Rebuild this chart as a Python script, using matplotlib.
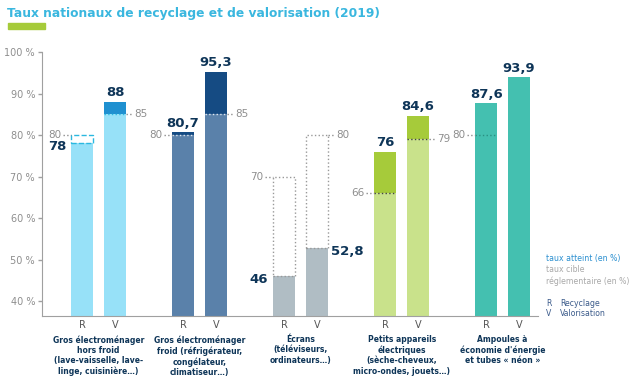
import numpy as np
import matplotlib
matplotlib.use("Agg")
import matplotlib.pyplot as plt
from matplotlib.patches import Rectangle

plt.rcParams["font.family"] = "DejaVu Sans"

# data
categories = [
    "Gros électroménager\nhors froid\n(lave-vaisselle, lave-\nlinge, cuisinière…)",
    "Gros électroménager\nfroid (réfrigérateur,\ncongélateur,\nclimatiseur…)",
    "Écrans\n(téléviseurs,\nordinateurs…)",
    "Petits appareils\nélectriques\n(sèche-cheveux,\nmicro-ondes, jouets…)",
    "Ampoules à\néconomie d'énergie\net tubes « néon »",
]
recyclage = [78, 80.7, 46, 76, 87.6]
valorisation = [88, 95.3, 52.8, 84.6, 93.9]
cible_recyclage = [80, 80, 70, 66, 80]
cible_valorisation = [85, 85, 80, 79, None]
y_ticks = [40, 50, 60, 70, 80, 90, 100]

# colours per category: (light, dark, target line)
light_colors = ["#97e1f8", "#5a81aa", "#b0bdc4", "#c9e28b", "#44c0b0"]
dark_colors = ["#1f90d0", "#154b83", "#b0bdc4", "#a6cb3a", "#44c0b0"]
line_colors = ["#2bb8e0", "#dfe7f0", "#999999", "#444444", "#2a8f82"]

navy = "#0e3558"
grey = "#8e8e8e"

W, H = 640, 378
fig = plt.figure(figsize=(W / 100, H / 100), dpi=100)
ax = fig.add_axes([42 / W, 1 - 316 / H, 496 / W, (316 - 52) / H])

ymin = 36.4
ax.set_ylim(ymin, 100)
ax.set_xlim(-0.56, 4.35)

x = np.arange(len(categories))
off = 0.163
bw = 0.213


def fmt(v):
    return f"{v:g}".replace(".", ",")


def draw_bar(xc, value, target, i, side):
    light, dark, lcol = light_colors[i], dark_colors[i], line_colors[i]
    left = xc - bw / 2
    right = xc + bw / 2
    if target is None or value <= target:
        ax.bar(xc, value, width=bw, color=light, zorder=2)
    else:
        ax.bar(xc, target, width=bw, color=light, zorder=2)
        ax.bar(xc, value - target, bottom=target, width=bw, color=dark, zorder=2)
    if target is not None:
        if value < target:
            ls = "--" if i == 0 else ":"
            ax.add_patch(Rectangle((left, value), bw, target - value, fill=False,
                                   edgecolor=lcol, linestyle=ls, linewidth=1, zorder=3))
        else:
            ax.plot([left, right], [target, target], color=lcol, linestyle=":",
                    linewidth=1, zorder=3)
        # target label with dotted leader
        if side == "left":
            lx = left - 0.1
            ax.plot([lx + 0.02, left], [target, target], color=grey, linestyle=":",
                    linewidth=1, zorder=3)
            ax.text(lx, target, fmt(target), ha="right", va="center", color=grey,
                    fontsize=7.5)
        else:
            lx = right + 0.08
            ax.plot([right, lx - 0.02], [target, target], color=grey, linestyle=":",
                    linewidth=1, zorder=3)
            ax.text(lx, target, fmt(target), ha="left", va="center", color=grey,
                    fontsize=7.5)
    # value label
    if target is not None and value < target:
        if side == "left":
            ax.text(left - 0.05, value - 0.8, fmt(value), ha="right", va="center",
                    color=navy, fontsize=9.5, fontweight="bold")
        else:
            ax.text(right + 0.03, value - 0.8, fmt(value), ha="left", va="center",
                    color=navy, fontsize=9.5, fontweight="bold")
    else:
        ax.text(xc, value + 0.6, fmt(value), ha="center", va="bottom",
                color=navy, fontsize=9.5, fontweight="bold")


for i in range(len(categories)):
    draw_bar(x[i] - off, recyclage[i], cible_recyclage[i], i, "left")
    draw_bar(x[i] + off, valorisation[i], cible_valorisation[i], i, "right")

# axes styling
for s in ["top", "right"]:
    ax.spines[s].set_visible(False)
ax.spines["left"].set_color("#a0a0a0")
ax.spines["bottom"].set_color("#a0a0a0")
ax.spines["left"].set_bounds(ymin, 100)
ax.set_yticks(y_ticks)
ax.set_yticklabels([f"{t} %" for t in y_ticks])
ax.tick_params(axis="y", colors="#a0a0a0", labelcolor=grey, labelsize=7,
               length=3, width=1, pad=2)

xt = np.concatenate([x - off, x + off])
ax.set_xticks(xt)
ax.set_xticklabels(["R"] * len(x) + ["V"] * len(x))
ax.tick_params(axis="x", length=0, labelsize=7, labelcolor="#555555", pad=3)

for i, cat in enumerate(categories):
    ax.text(x[i], ymin - 4.6, cat, ha="center", va="top", color=navy,
            fontsize=5.5, fontweight="bold", linespacing=1.2)

# title and accent bar
fig.text(7 / W, 1 - 14 / H, "Taux nationaux de recyclage et de valorisation (2019)",
         ha="left", va="center", color="#3ab7df", fontsize=8.8, fontweight="bold")
fig.patches.append(Rectangle((8 / W, 1 - 29 / H), 37 / W, 6 / H,
                             transform=fig.transFigure, color="#a6cb3a"))

# legend texts
fs = 5.6
fig.text(546 / W, 1 - 259 / H, "taux atteint (en %)", color="#2a8fd0", fontsize=fs,
         va="center")
fig.text(546 / W, 1 - 270 / H, "taux cible", color="#a8a8a8", fontsize=fs, va="center")
fig.text(546 / W, 1 - 281 / H, "réglementaire (en %)", color="#a8a8a8", fontsize=fs,
         va="center")
fig.text(546 / W, 1 - 303 / H, "R", color="#3a5a8a", fontsize=fs, va="center")
fig.text(560 / W, 1 - 303 / H, "Recyclage", color="#3a5a8a", fontsize=fs, va="center")
fig.text(546 / W, 1 - 314 / H, "V", color="#3a5a8a", fontsize=fs, va="center")
fig.text(560 / W, 1 - 314 / H, "Valorisation", color="#3a5a8a", fontsize=fs, va="center")

fig.savefig("out.png", dpi=100)
